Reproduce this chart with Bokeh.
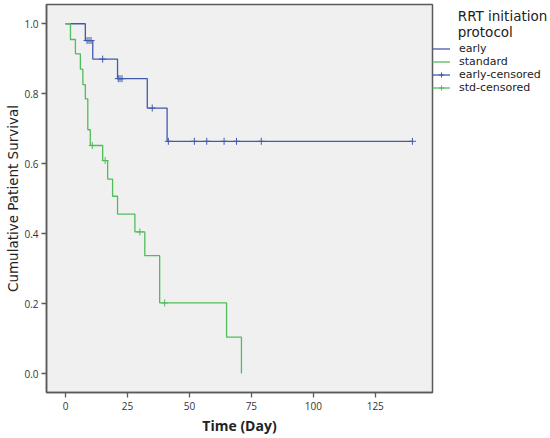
from bokeh.plotting import figure
from bokeh.models import Legend, LegendItem, FixedTicker, NumeralTickFormatter, Range1d
from bokeh.embed import file_html
from bokeh.resources import INLINE

# Kaplan-Meier steps (time in days, cumulative survival)
early_t = [0, 8, 11, 21, 33, 41, 140]
early_s = [1.0, 0.952, 0.899, 0.843, 0.759, 0.664, 0.664]
early_cens_t = [8.7, 9.5, 10.3, 15, 21.3, 22.0, 22.8, 35, 41.5, 52, 57, 64, 69, 79, 140]
early_cens_s = [0.952, 0.952, 0.952, 0.899, 0.843, 0.843, 0.843, 0.759,
                0.664, 0.664, 0.664, 0.664, 0.664, 0.664, 0.664]

std_t = [0, 2, 4, 6, 7, 8, 9, 10, 15, 17, 19, 21, 28, 32, 38, 65, 71]
std_s = [1.0, 0.955, 0.914, 0.870, 0.826, 0.785, 0.697, 0.652, 0.609, 0.556,
         0.507, 0.456, 0.405, 0.337, 0.202, 0.104, 0.0]
std_cens_t = [10.8, 16, 30, 40]
std_cens_s = [0.652, 0.609, 0.405, 0.202]

x_ticks = [0, 25, 50, 75, 100, 125]
y_ticks = [0.0, 0.2, 0.4, 0.6, 0.8, 1.0]

legend_title = ["RRT initiation", "protocol"]
legend_labels = ["early", "standard", "early-censored", "std-censored"]

BLUE = "#4259ad"
GREEN = "#50bd5c"
AXIS = "#5a5a5a"
TXT = "#222222"

FW, FH = 386, 388
p = figure(frame_width=FW, frame_height=FH, output_backend="svg",
           toolbar_location=None, x_range=Range1d(-7.67, 148.1),
           y_range=Range1d(-0.054, 1.055),
           min_border_left=46, min_border_top=4, min_border_bottom=46,
           min_border_right=0)
p.background_fill_color = "#f0f0f0"
p.border_fill_color = "white"
p.outline_line_color = AXIS
p.outline_line_width = 1.5
p.xgrid.visible = False
p.ygrid.visible = False

r_early = p.step(early_t, early_s, mode="after", line_color=BLUE, line_width=1.3)
r_std = p.step(std_t, std_s, mode="after", line_color=GREEN, line_width=1.3)
r_ec = p.scatter(early_cens_t, early_cens_s, marker="cross", size=7,
                 line_color=BLUE, line_width=1)
r_sc = p.scatter(std_cens_t, std_cens_s, marker="cross", size=7,
                 line_color=GREEN, line_width=1)

for ax in (p.xaxis, p.yaxis):
    ax.axis_line_color = AXIS
    ax.axis_line_width = 1.5
    ax.major_tick_line_color = AXIS
    ax.major_tick_line_width = 1.3
    ax.major_tick_out = 5
    ax.major_tick_in = 0
    ax.minor_tick_line_color = None
    ax.major_label_text_font = "Open Sans"
    ax.major_label_text_font_size = "10px"
    ax.major_label_text_color = "#333333"

p.xaxis.ticker = FixedTicker(ticks=x_ticks)
p.yaxis.ticker = FixedTicker(ticks=y_ticks)
p.yaxis.formatter = NumeralTickFormatter(format="0.0")
p.xaxis.major_label_standoff = 4
p.yaxis.major_label_standoff = 3

p.xaxis.axis_label = "Time (Day)"
p.xaxis.axis_label_text_font = "Open Sans"
p.xaxis.axis_label_text_font_style = "bold"
p.xaxis.axis_label_text_font_size = "14px"
p.xaxis.axis_label_text_color = TXT
p.xaxis.axis_label_standoff = 3

p.yaxis.axis_label = "Cumulative Patient Survival"
p.yaxis.axis_label_text_font = "DejaVu Sans"
p.yaxis.axis_label_text_font_style = "normal"
p.yaxis.axis_label_text_font_size = "13.5px"
p.yaxis.axis_label_text_color = TXT
p.yaxis.axis_label_standoff = 0

indent = "\u00a0" * 6
legend = Legend(items=[
    LegendItem(label=legend_labels[0], renderers=[r_early]),
    LegendItem(label=legend_labels[1], renderers=[r_std]),
    LegendItem(label=legend_labels[2], renderers=[r_early, r_ec]),
    LegendItem(label=legend_labels[3], renderers=[r_std, r_sc]),
], title="\n".join(indent + t for t in legend_title))
legend.title_text_font = "DejaVu Sans"
legend.title_text_font_size = "13.5px"
legend.title_text_font_style = "normal"
legend.title_text_color = TXT
legend.title_text_line_height = 1.5
legend.title_standoff = 2
legend.label_text_font = "DejaVu Sans"
legend.label_text_font_size = "11px"
legend.label_text_color = TXT
legend.glyph_width = 18
legend.glyph_height = 13
legend.label_height = 13
legend.label_standoff = 9
legend.spacing = 0
legend.padding = 1
legend.margin = 0
legend.border_line_color = None
legend.background_fill_alpha = 0
legend.location = (0, 298)
p.add_layout(legend, "right")

open("out.html", "w").write(file_html(p, INLINE))
